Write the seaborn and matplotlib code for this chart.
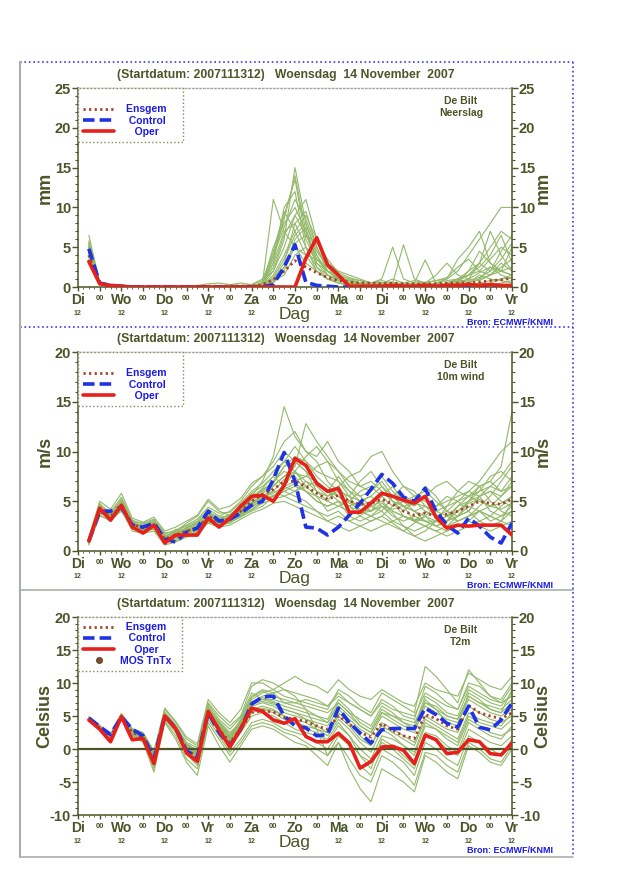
import matplotlib
matplotlib.use("Agg")
import matplotlib.pyplot as plt
import seaborn as sns
import pandas as pd
from matplotlib.lines import Line2D
from matplotlib.ticker import MultipleLocator

# ---------------- data ----------------
hours = [6, 12, 18, 24, 30, 36, 42, 48, 54, 60, 66, 72, 78, 84, 90, 96, 102, 108, 114, 120,
         126, 132, 138, 144, 150, 156, 162, 168, 174, 180, 186, 192, 198, 204, 210, 216, 222, 228, 234, 240]

tick_labels = ['Di', '00', 'Wo', '00', 'Do', '00', 'Vr', '00', 'Za', '00', 'Zo',
               '00', 'Ma', '00', 'Di', '00', 'Wo', '00', 'Do', '00', 'Vr']

title_text = "(Startdatum: 2007111312)   Woensdag  14 November  2007"

# --- precipitation (mm) ---
prec_oper = [3.2, 0.4, 0.2, 0.1, 0, 0, 0, 0,
             0, 0, 0, 0, 0, 0, 0, 0,
             0, 0, 0, 0, 3.6, 6.2, 2.8, 1.5,
             0.1, 0.1, 0.1, 0.1, 0.2, 0.1, 0.1, 0.2,
             0.1, 0.2, 0.2, 0.3, 0.2, 0.3, 0.2, 0.2]
prec_ctrl = [4.8, 0.5, 0.2, 0.1, 0, 0, 0, 0,
             0, 0, 0, 0, 0, 0, 0, 0,
             0, 0.3, 2.5, 5.3, 0.6, 0.2, 0.1, 0,
             0, 0, 0, 0, 0, 0, 0, 0,
             0, 0, 0, 0, 0.1, 0, 0.1, 0.1]
prec_mean = [4.0, 0.5, 0.2, 0.1, 0.05, 0.05, 0.05, 0.05,
             0.05, 0.05, 0.05, 0.1, 0.1, 0.1, 0.1, 0.1,
             0.3, 0.9, 2.0, 3.3, 2.5, 1.8, 1.2, 0.8,
             0.6, 0.5, 0.5, 0.4, 0.5, 0.4, 0.4, 0.4,
             0.4, 0.5, 0.5, 0.5, 0.6, 0.8, 0.9, 1.1]
prec_members = [
    [5.5, 0.5, 0.2, 0, 0, 0, 0, 0, 0, 0, 0, 0, 0, 0, 0, 0,
     0.2, 2.0, 6.0, 15.0, 8.0, 4.0, 1.5, 0.8, 0.5, 0.3, 0.2, 0.2, 0.5, 0.3, 0.2, 0.5,
     0.8, 1.0, 2.0, 4.0, 6.0, 8.0, 10.0, 10.0],
    [4.5, 0.3, 0.1, 0, 0, 0, 0, 0, 0, 0, 0, 0, 0, 0, 0, 0.1,
     0.5, 11.0, 7.0, 5.0, 3.0, 2.0, 1.0, 0.5, 0.3, 0.2, 0.1, 0.1, 0.1, 0.1, 0.2, 0.3,
     0.2, 0.5, 1.0, 0.5, 0.3, 0.5, 1.0, 1.5],
    [6.5, 0.6, 0.2, 0.1, 0, 0, 0, 0, 0, 0, 0, 0, 0, 0, 0, 0.3,
     1.0, 4.0, 9.0, 13.5, 6.0, 3.0, 2.0, 1.0, 0.5, 0.3, 0.5, 1.0, 5.0, 1.0, 0.5, 0.3,
     0.2, 0.3, 0.5, 1.0, 3.0, 7.0, 4.0, 2.0],
    [3.5, 0.4, 0.1, 0, 0, 0, 0, 0, 0, 0, 0, 0, 0.1, 0.3, 0.5, 0.3,
     0.2, 1.0, 3.0, 8.0, 9.5, 5.0, 2.0, 1.0, 0.5, 0.3, 0.5, 0.8, 0.5, 5.3, 1.0, 0.5,
     0.3, 0.2, 0.3, 0.5, 1.5, 1.0, 0.8, 0.5],
    [5.0, 0.5, 0.2, 0, 0, 0, 0, 0, 0, 0, 0, 0, 0, 0, 0, 0,
     0.3, 5.0, 8.0, 10.0, 7.0, 2.5, 1.0, 0.5, 0.2, 0.1, 0.1, 0.2, 0.3, 0.2, 0.5, 3.4,
     0.5, 0.3, 0.2, 0.5, 1.0, 2.5, 1.5, 1.0],
    [4.0, 0.4, 0.1, 0, 0, 0, 0, 0, 0, 0, 0, 0, 0, 0, 0, 0,
     0, 0.5, 2.0, 6.0, 7.5, 3.0, 1.5, 1.0, 0.8, 0.5, 0.3, 0.2, 0.2, 0.2, 0.1, 0.2,
     0.3, 0.5, 0.8, 1.5, 2.5, 4.0, 6.5, 3.0],
    [5.2, 0.6, 0.3, 0.1, 0, 0, 0, 0, 0, 0, 0, 0, 0, 0, 0.1, 0.2,
     0.5, 3.0, 10.0, 12.0, 5.0, 2.0, 1.0, 0.8, 0.5, 0.3, 0.2, 0.1, 0.1, 0.2, 0.3, 0.2,
     0.1, 0.2, 0.5, 0.5, 1.0, 1.5, 2.0, 5.0],
    [4.8, 0.5, 0.2, 0, 0, 0, 0, 0, 0, 0, 0, 0, 0, 0, 0, 0,
     0.2, 1.5, 4.0, 7.0, 9.0, 6.0, 3.0, 1.5, 1.0, 0.8, 0.5, 0.5, 0.3, 0.3, 0.2, 0.2,
     0.3, 0.3, 0.5, 2.0, 4.5, 3.0, 2.0, 1.5],
    [3.8, 0.3, 0.1, 0, 0, 0, 0, 0, 0, 0, 0, 0, 0, 0, 0, 0,
     0.1, 0.8, 1.5, 4.0, 5.0, 3.5, 2.0, 1.0, 0.5, 0.3, 0.2, 0.1, 0.1, 0.1, 0.1, 0.1,
     0.1, 0.2, 0.2, 0.3, 0.5, 0.8, 1.0, 1.2],
    [5.8, 0.5, 0.2, 0, 0, 0, 0, 0, 0, 0, 0, 0, 0, 0, 0, 0.1,
     0.3, 2.5, 6.5, 9.0, 6.5, 4.0, 2.0, 1.5, 1.0, 0.5, 0.3, 0.5, 1.0, 0.5, 0.3, 0.2,
     0.5, 1.0, 3.5, 5.0, 7.0, 3.0, 2.0, 2.5],
    [4.2, 0.4, 0.2, 0, 0, 0, 0, 0, 0, 0, 0, 0, 0, 0, 0, 0,
     0.2, 1.0, 2.5, 5.0, 4.0, 2.0, 1.0, 0.5, 0.3, 0.2, 0.1, 0.1, 0.1, 0.1, 0.1, 0.1,
     0.2, 0.1, 0.2, 0.3, 0.5, 0.3, 0.5, 0.8],
    [5.0, 0.5, 0.2, 0, 0, 0, 0, 0, 0, 0, 0, 0, 0, 0, 0, 0,
     0.3, 4.0, 7.5, 11.0, 8.5, 5.0, 2.5, 1.2, 0.8, 0.5, 0.3, 0.2, 0.2, 0.3, 0.5, 0.3,
     0.3, 0.5, 1.0, 2.0, 3.0, 5.0, 7.0, 6.0],
    [4.4, 0.4, 0.2, 0.1, 0, 0, 0, 0, 0, 0.1, 0.2, 0.4, 0.5, 0.3, 0.2, 0.3,
     0.8, 2.0, 5.0, 9.0, 11.0, 6.0, 3.0, 2.0, 1.5, 1.0, 0.5, 0.3, 0.2, 0.5, 0.8, 0.5,
     0.3, 0.5, 0.8, 1.5, 3.0, 2.0, 4.5, 6.5],
    [5.6, 0.6, 0.2, 0, 0, 0, 0, 0, 0, 0, 0, 0, 0, 0, 0, 0,
     0.5, 3.5, 8.5, 14.0, 7.0, 3.5, 2.0, 1.0, 0.8, 0.5, 0.3, 0.2, 0.3, 0.2, 0.2, 0.3,
     0.5, 0.8, 1.0, 1.5, 2.0, 3.5, 5.0, 4.0],
    [4.6, 0.4, 0.2, 0, 0, 0, 0, 0, 0, 0, 0, 0, 0, 0, 0, 0,
     0.4, 3.0, 7.0, 8.0, 5.0, 2.5, 1.5, 0.8, 0.6, 0.4, 0.3, 0.3, 0.2, 0.3, 0.4, 0.6,
     0.8, 1.2, 2.5, 3.5, 2.0, 1.5, 3.0, 2.0],
    [5.3, 0.5, 0.2, 0, 0, 0, 0, 0, 0, 0, 0, 0, 0, 0, 0, 0,
     0.2, 1.2, 3.5, 6.5, 8.0, 4.5, 2.5, 1.2, 0.8, 0.5, 0.4, 0.3, 0.3, 0.2, 0.2, 0.3,
     0.2, 0.3, 0.6, 1.0, 1.8, 2.5, 2.0, 1.5],
    [4.9, 0.5, 0.2, 0, 0, 0, 0, 0, 0, 0, 0, 0, 0, 0, 0, 0,
     0.6, 4.5, 9.5, 7.0, 4.0, 3.5, 2.5, 1.0, 0.5, 0.3, 0.2, 0.2, 0.1, 0.1, 0.2, 0.2,
     0.3, 0.4, 0.5, 0.8, 1.2, 2.0, 3.5, 5.5],
    [4.3, 0.4, 0.1, 0, 0, 0, 0, 0, 0, 0, 0, 0, 0, 0, 0, 0,
     0.1, 0.6, 2.5, 5.5, 6.5, 5.5, 3.5, 1.8, 1.2, 0.8, 0.5, 0.5, 0.6, 0.4, 0.3, 0.5,
     1.5, 3.0, 1.5, 1.0, 0.8, 1.5, 2.5, 3.5],
]

# --- 10m wind (m/s) ---
wind_oper = [1.0, 4.3, 3.1, 4.6, 2.4, 1.8, 2.6, 0.8,
             1.6, 1.6, 1.6, 3.3, 2.4, 3.3, 4.5, 5.5,
             5.6, 5.0, 6.6, 9.3, 8.6, 6.8, 6.0, 6.3,
             3.9, 3.9, 4.8, 5.8, 5.5, 5.1, 4.8, 5.5,
             3.4, 2.3, 2.6, 2.5, 2.6, 2.6, 2.6, 1.6]
wind_ctrl = [1.0, 4.0, 4.0, 4.4, 2.6, 2.4, 2.8, 1.2,
             0.9, 1.9, 2.3, 4.0, 3.0, 3.2, 3.8, 4.6,
             5.0, 7.2, 9.9, 7.0, 2.4, 2.3, 1.6, 2.4,
             3.6, 4.8, 6.2, 7.7, 6.8, 5.4, 5.0, 6.3,
             4.0, 2.6, 1.8, 3.3, 2.5, 1.4, 0.8, 2.8]
wind_mean = [1.0, 4.0, 3.5, 4.5, 2.7, 2.3, 2.6, 1.2,
             1.6, 2.0, 2.3, 3.5, 3.0, 3.2, 4.0, 5.0,
             5.7, 6.2, 7.0, 7.0, 6.5, 5.8, 5.2, 5.6,
             5.0, 4.7, 4.8, 5.2, 4.7, 4.0, 3.6, 3.8,
             3.5, 3.7, 4.0, 4.5, 5.0, 4.8, 4.7, 5.2]
wind_members = [
    [1.2, 4.5, 4.0, 5.0, 3.0, 2.5, 3.0, 1.5, 2.0, 2.5, 3.0, 4.2, 3.5, 4.0, 5.0, 6.5,
     7.5, 8.5, 10.0, 9.0, 8.0, 7.0, 6.0, 7.5, 6.0, 5.5, 6.0, 7.0, 5.5, 4.5, 3.0, 3.5,
     2.5, 3.0, 3.5, 4.0, 5.5, 6.0, 5.5, 7.0],
    [0.8, 3.5, 3.2, 4.0, 2.2, 2.0, 2.2, 0.8, 1.2, 1.5, 2.0, 3.0, 2.6, 2.8, 3.5, 4.0,
     4.5, 5.5, 6.0, 5.5, 5.0, 4.0, 3.5, 4.0, 3.0, 3.5, 4.5, 5.0, 4.0, 3.5, 3.0, 2.5,
     2.0, 2.5, 3.0, 3.5, 4.0, 3.5, 3.0, 4.0],
    [1.0, 4.8, 3.6, 5.2, 3.0, 2.8, 3.2, 1.8, 2.0, 2.8, 3.5, 5.0, 4.0, 3.6, 4.5, 5.5,
     7.0, 9.5, 14.5, 11.5, 10.0, 9.0, 7.0, 6.0, 5.5, 7.0, 8.0, 6.5, 5.0, 4.0, 5.0, 6.5,
     5.5, 4.0, 3.0, 3.5, 4.5, 5.5, 7.0, 8.5],
    [1.1, 4.0, 3.0, 4.2, 2.4, 2.1, 2.4, 1.0, 1.4, 1.8, 2.5, 3.2, 2.8, 3.0, 3.8, 4.8,
     5.5, 5.0, 6.5, 8.0, 9.5, 10.5, 9.0, 7.0, 5.5, 4.0, 3.5, 4.5, 3.8, 2.5, 1.5, 2.0,
     3.0, 4.5, 6.0, 7.0, 6.5, 5.0, 4.0, 3.5],
    [0.9, 4.2, 3.8, 4.6, 2.8, 2.4, 2.7, 1.3, 1.8, 2.2, 2.0, 3.6, 3.2, 3.4, 4.2, 5.5,
     6.0, 7.0, 8.0, 7.5, 6.0, 5.0, 4.5, 5.0, 4.5, 4.0, 3.5, 3.0, 2.5, 2.0, 2.8, 3.5,
     4.5, 5.5, 5.0, 4.0, 3.0, 2.5, 3.0, 5.0],
    [1.3, 4.4, 3.4, 4.8, 2.5, 2.2, 2.8, 1.6, 1.5, 2.4, 2.8, 4.0, 3.0, 3.4, 4.0, 4.5,
     5.0, 6.5, 7.5, 8.5, 12.8, 11.0, 9.5, 8.0, 7.0, 6.5, 7.0, 6.0, 5.0, 4.5, 4.0, 3.5,
     3.0, 2.5, 3.5, 5.0, 6.0, 7.5, 8.0, 7.0],
    [0.7, 3.8, 3.6, 4.4, 2.6, 2.6, 2.5, 1.1, 1.7, 2.1, 2.6, 3.4, 3.3, 3.6, 4.6, 5.8,
     6.5, 7.5, 6.5, 6.0, 7.0, 6.5, 5.5, 6.5, 5.0, 4.5, 5.0, 6.0, 5.0, 3.5, 3.0, 4.0,
     3.5, 3.0, 4.0, 5.0, 6.5, 7.0, 6.0, 6.5],
    [1.0, 4.1, 3.3, 4.3, 2.9, 2.3, 2.5, 1.2, 1.3, 1.7, 2.2, 3.3, 2.9, 3.1, 3.6, 4.2,
     5.0, 5.5, 6.2, 6.8, 6.0, 5.5, 5.0, 4.5, 4.0, 3.8, 4.0, 4.5, 4.2, 4.5, 4.8, 4.5,
     4.0, 3.5, 3.0, 3.5, 4.0, 4.5, 4.8, 5.5],
    [1.2, 4.3, 3.7, 4.9, 2.7, 2.5, 2.9, 1.4, 1.9, 2.3, 2.7, 3.9, 3.4, 3.5, 4.3, 5.2,
     6.2, 6.8, 8.5, 9.0, 8.0, 6.0, 5.0, 6.5, 7.5, 8.0, 9.5, 10.0, 8.0, 6.5, 5.5, 5.0,
     4.5, 5.0, 5.5, 6.0, 7.0, 8.5, 10.0, 11.0],
    [0.8, 3.9, 3.1, 4.1, 2.3, 2.0, 2.3, 0.9, 1.0, 1.6, 1.9, 2.9, 2.7, 2.9, 3.4, 4.1,
     4.8, 5.2, 5.5, 5.0, 4.5, 4.0, 3.0, 2.5, 2.0, 2.5, 3.0, 3.5, 2.8, 2.0, 1.5, 1.0,
     1.5, 2.0, 2.5, 3.0, 2.5, 2.0, 2.5, 3.0],
    [1.1, 4.6, 3.9, 5.4, 3.1, 2.7, 3.1, 1.7, 2.1, 2.6, 3.2, 4.4, 3.8, 3.9, 4.8, 6.0,
     6.8, 8.0, 9.0, 10.5, 9.0, 7.5, 6.5, 5.5, 4.5, 5.0, 5.5, 4.5, 3.5, 3.0, 3.5, 3.0,
     2.5, 3.0, 4.5, 5.5, 6.0, 6.5, 7.5, 9.0],
    [1.0, 4.0, 3.5, 4.5, 2.6, 2.2, 2.6, 1.1, 1.6, 2.0, 2.4, 3.6, 3.1, 3.3, 3.9, 4.9,
     5.6, 6.0, 7.2, 7.8, 7.5, 8.5, 9.0, 8.0, 6.5, 5.5, 4.5, 4.0, 3.0, 2.5, 2.0, 2.5,
     3.0, 3.5, 4.0, 4.8, 5.2, 4.5, 4.2, 4.8],
    [0.6, 3.6, 3.0, 4.2, 2.0, 1.8, 2.0, 0.6, 0.9, 1.4, 1.8, 2.8, 2.4, 2.6, 3.2, 3.8,
     4.2, 4.8, 5.0, 4.5, 4.0, 3.5, 3.0, 3.5, 3.0, 2.5, 2.0, 2.5, 3.0, 3.5, 3.0, 2.5,
     2.0, 1.5, 2.0, 2.5, 3.0, 3.5, 3.0, 2.5],
    [1.4, 5.0, 4.2, 5.8, 3.3, 2.9, 3.4, 2.0, 2.4, 3.0, 3.6, 5.2, 4.2, 4.5, 5.3, 6.8,
     7.5, 9.0, 11.0, 12.0, 10.0, 9.5, 11.0, 9.0, 8.0, 6.5, 6.0, 7.5, 6.0, 5.0, 4.5, 5.5,
     6.5, 7.0, 6.0, 5.5, 6.5, 7.0, 8.5, 14.0],
    [0.9, 4.3, 3.3, 4.7, 2.5, 2.6, 2.9, 1.5, 1.5, 2.3, 2.9, 3.8, 3.2, 3.7, 4.4, 5.6,
     6.0, 7.0, 8.5, 9.5, 9.0, 8.0, 7.5, 7.0, 6.0, 5.0, 4.0, 5.5, 6.5, 5.0, 4.0, 3.0,
     2.5, 2.0, 2.5, 3.0, 4.0, 3.5, 4.5, 5.5],
    [1.2, 3.7, 3.8, 4.4, 2.9, 2.0, 2.2, 1.0, 2.2, 1.8, 2.1, 3.1, 2.9, 3.0, 3.7, 4.6,
     5.3, 6.0, 5.5, 6.0, 6.5, 7.0, 6.0, 5.0, 3.5, 3.0, 3.5, 4.0, 5.5, 6.5, 6.0, 4.5,
     3.5, 4.0, 5.0, 6.0, 5.5, 4.0, 3.5, 4.0],
    [1.0, 4.1, 3.6, 4.6, 2.6, 2.4, 2.7, 1.2, 1.7, 2.0, 2.4, 3.5, 3.0, 3.4, 4.1, 5.1,
     5.8, 6.6, 7.5, 8.0, 7.0, 6.0, 5.5, 6.0, 5.5, 5.0, 5.5, 6.5, 5.5, 4.5, 4.0, 4.5,
     4.0, 4.5, 5.0, 5.5, 5.0, 4.5, 5.5, 6.5],
    [0.9, 3.9, 3.4, 4.4, 2.5, 2.2, 2.5, 1.1, 1.5, 1.9, 2.2, 3.4, 2.9, 3.2, 3.9, 4.7,
     5.4, 5.8, 6.5, 7.0, 7.5, 7.0, 6.0, 5.5, 4.8, 4.2, 4.0, 4.8, 4.0, 3.5, 3.2, 3.0,
     3.0, 3.5, 4.5, 5.0, 5.5, 6.0, 5.0, 4.5],
    [1.1, 4.2, 3.7, 4.7, 2.8, 2.4, 2.6, 1.3, 1.8, 2.2, 2.5, 3.7, 3.2, 3.3, 4.0, 5.3,
     6.3, 7.5, 9.0, 8.0, 6.5, 5.5, 4.0, 4.5, 5.0, 6.0, 6.5, 5.5, 4.5, 5.0, 5.5, 6.0,
     5.0, 4.0, 3.5, 4.0, 5.5, 6.5, 6.0, 7.5],
    [1.0, 3.8, 3.3, 4.3, 2.4, 2.1, 2.4, 1.0, 1.4, 1.8, 2.1, 3.2, 2.8, 3.0, 3.6, 4.4,
     5.2, 5.6, 6.0, 6.5, 6.0, 5.0, 4.5, 5.0, 4.5, 3.5, 3.0, 3.5, 4.5, 5.5, 5.0, 4.0,
     3.5, 3.0, 3.5, 4.5, 4.0, 3.0, 3.5, 4.5],
]

# --- T2m (Celsius) ---
temp_oper = [4.4, 3.0, 1.1, 4.9, 1.4, 1.6, -2.2, 5.0,
             3.1, -0.6, -1.9, 5.7, 2.9, 0.3, 3.1, 6.2,
             5.7, 4.4, 3.9, 4.6, 1.9, 1.1, 1.1, 2.4,
             0.9, -2.9, -1.9, 0.3, 0.4, -0.2, -2.2, 2.1,
             1.4, -0.7, -0.5, 1.4, 1.1, -0.7, -0.9, 0.9]
temp_ctrl = [4.7, 3.4, 2.2, 4.9, 3.0, 2.0, -1.5, 5.0,
             3.2, -0.3, -1.2, 5.5, 2.5, 0.5, 3.0, 6.8,
             7.9, 8.0, 5.0, 3.5, 3.2, 2.0, 2.2, 6.2,
             4.0, 2.4, 0.9, 2.9, 3.1, 3.1, 3.1, 6.2,
             5.2, 3.9, 3.3, 6.5, 3.3, 2.9, 4.4, 7.0]
temp_mean = [4.5, 3.2, 1.8, 4.9, 2.5, 1.8, -1.8, 5.0,
             3.0, 0.0, -1.3, 5.5, 3.0, 1.0, 3.0, 5.5,
             5.8, 5.6, 4.8, 4.5, 4.2, 3.5, 3.0, 5.0,
             3.8, 2.5, 1.8, 3.9, 2.8, 2.0, 1.6, 5.2,
             4.6, 3.5, 3.0, 6.6, 5.5, 5.0, 4.6, 5.5]
temp_members = [
    [4.8, 3.5, 2.0, 5.3, 2.8, 2.2, -1.0, 5.5, 3.5, 0.5, -0.5, 6.5, 4.0, 2.0, 4.5, 8.0,
     9.0, 8.5, 7.0, 6.5, 6.0, 5.0, 4.5, 7.5, 6.0, 4.0, 3.0, 6.0, 5.0, 4.0, 3.5, 8.0,
     7.0, 5.5, 5.0, 9.0, 8.0, 7.0, 6.5, 8.5],
    [4.2, 3.0, 1.5, 4.6, 2.2, 1.4, -2.5, 4.5, 2.5, -0.8, -2.5, 4.5, 2.0, -0.5, 1.5, 4.0,
     4.5, 4.0, 3.0, 2.5, 2.0, 1.0, 0.0, 2.5, 1.0, -1.0, -2.0, 1.0, 0.0, -1.5, -3.0, 2.0,
     1.5, 0.0, -1.0, 3.0, 2.0, 1.0, 0.5, 2.0],
    [4.6, 3.4, 2.2, 5.0, 3.0, 2.4, -0.5, 6.0, 4.0, 1.5, 0.5, 7.0, 5.0, 3.5, 5.0, 9.5,
     10.5, 10.0, 9.0, 8.5, 8.0, 7.5, 6.5, 8.5, 7.0, 6.0, 5.0, 7.5, 6.5, 5.0, 4.5, 9.5,
     8.5, 7.0, 6.0, 10.0, 9.5, 8.0, 7.5, 10.0],
    [4.4, 3.0, 1.2, 4.8, 2.0, 1.0, -3.5, 4.0, 1.5, -2.0, -4.0, 3.5, 0.5, -2.0, 0.5, 3.0,
     3.5, 3.0, 2.0, 1.0, 0.5, -1.0, -2.5, 1.0, -1.5, -4.0, -5.0, -1.0, -2.0, -3.5, -5.5, -0.5,
     -1.0, -2.5, -3.5, 1.0, 0.0, -1.5, -2.0, 0.5],
    [4.5, 3.2, 1.8, 5.0, 2.6, 1.8, -1.5, 5.2, 3.2, 0.3, -1.0, 5.8, 3.5, 1.5, 3.5, 6.5,
     7.0, 6.5, 5.5, 5.0, 4.5, 4.0, 3.5, 6.0, 4.5, 3.0, 2.0, 5.0, 4.0, 3.0, 2.5, 6.5,
     5.5, 4.5, 4.0, 7.5, 6.5, 5.5, 5.0, 6.0],
    [4.7, 3.3, 1.9, 5.1, 2.7, 2.0, -1.2, 5.4, 3.3, 0.8, -0.2, 6.2, 4.2, 2.5, 4.0, 7.5,
     8.5, 9.0, 10.0, 11.0, 10.0, 9.5, 8.5, 10.5, 9.0, 8.0, 7.5, 9.0, 8.0, 7.0, 6.5, 10.0,
     9.0, 8.5, 8.0, 11.5, 10.5, 9.5, 9.0, 11.0],
    [4.3, 3.1, 1.6, 4.7, 2.4, 1.5, -2.0, 4.8, 2.8, -0.3, -1.8, 5.0, 2.5, 0.0, 2.5, 5.0,
     5.5, 5.0, 4.0, 3.0, 2.5, 2.0, 1.5, 4.0, 2.0, -1.0, -3.0, 1.5, 0.5, -1.0, -2.5, 2.5,
     2.0, 0.5, -0.5, 4.0, 3.0, 2.0, 1.5, 3.5],
    [4.6, 3.4, 2.1, 5.2, 2.9, 2.3, -0.8, 5.6, 3.6, 1.0, 0.2, 6.8, 4.5, 3.0, 4.8, 8.5,
     7.5, 7.0, 6.0, 5.5, 5.0, 4.5, 4.0, 6.5, 5.0, 3.5, 2.5, 5.5, 5.0, 4.5, 4.0, 7.0,
     6.5, 5.0, 4.5, 8.0, 7.0, 6.5, 6.0, 7.5],
    [4.4, 3.1, 1.7, 4.9, 2.5, 1.7, -1.6, 5.0, 3.0, -0.2, -1.2, 5.4, 3.2, 1.2, 3.2, 6.0,
     6.5, 6.0, 5.0, 4.5, 4.0, 3.0, 2.5, 5.5, 4.0, 2.0, 0.5, 4.0, 3.0, 2.0, 1.0, 5.0,
     4.0, 3.0, 2.5, 6.5, 5.5, 4.5, 4.0, 5.0],
    [4.5, 3.3, 1.9, 5.0, 2.8, 2.1, -1.1, 5.3, 3.4, 0.6, -0.8, 6.0, 3.8, 1.8, 4.2, 7.0,
     7.5, 7.5, 7.0, 7.0, 6.5, 6.0, 5.5, 7.0, 5.5, 4.5, 3.5, 6.5, 5.5, 4.0, 3.0, 7.5,
     6.0, 4.0, 3.5, 8.5, 7.5, 6.0, 5.5, 9.0],
    [4.3, 2.9, 1.4, 4.5, 2.1, 1.2, -3.0, 4.2, 2.0, -1.5, -3.0, 4.0, 1.5, -1.0, 1.0, 3.5,
     4.0, 3.5, 2.5, 2.0, 1.0, 0.0, -1.0, 2.0, 0.5, -2.5, -4.0, 0.0, -1.0, -2.0, -4.0, 1.0,
     0.0, -1.5, -2.5, 2.0, 1.0, 0.0, -1.0, 1.5],
    [4.9, 3.6, 2.3, 5.4, 3.1, 2.5, -0.3, 6.2, 4.2, 1.8, 0.8, 7.5, 5.5, 4.0, 6.0, 10.0,
     10.0, 9.0, 8.0, 7.5, 7.0, 6.5, 6.0, 9.0, 8.0, 6.5, 5.5, 8.5, 7.5, 6.5, 5.5, 12.5,
     11.0, 9.0, 7.0, 12.0, 10.0, 8.0, 7.0, 8.0],
    [4.4, 3.2, 1.7, 4.8, 2.6, 1.9, -1.7, 5.1, 3.1, 0.1, -1.5, 5.2, 3.0, 0.8, 2.8, 5.5,
     6.0, 5.5, 4.5, 4.0, 3.5, 3.0, 2.0, 4.5, 3.0, 1.0, -0.5, 3.0, 2.0, 0.5, -1.0, 3.5,
     3.0, 2.0, 1.0, 5.0, 4.0, 3.5, 3.0, 4.5],
    [4.6, 3.3, 2.0, 5.1, 2.7, 2.1, -1.3, 5.3, 3.2, 0.4, -0.6, 5.9, 3.6, 1.6, 3.8, 7.0,
     8.0, 8.5, 9.0, 8.0, 6.0, 3.0, -1.0, 1.0, -3.0, -6.0, -8.0, -3.0, -4.0, -5.0, -6.5, -1.0,
     -2.0, -3.5, -4.5, 0.5, -0.5, -2.0, -2.5, 0.0],
    [4.5, 3.3, 1.9, 5.0, 2.7, 1.9, -1.4, 5.2, 3.3, 0.4, -0.9, 5.9, 3.7, 1.7, 3.9, 7.2,
     7.8, 7.2, 6.5, 6.0, 5.5, 5.0, 4.0, 7.0, 5.5, 3.5, 2.5, 5.5, 4.5, 3.5, 3.0, 7.0,
     6.0, 5.0, 4.5, 8.0, 7.0, 6.0, 5.5, 7.0],
    [4.5, 3.2, 1.8, 4.9, 2.6, 1.8, -1.6, 5.1, 3.1, 0.2, -1.1, 5.6, 3.4, 1.4, 3.6, 6.8,
     7.2, 6.8, 6.0, 5.5, 4.5, 3.5, 2.5, 5.0, 3.5, 1.5, 0.5, 3.5, 2.5, 1.5, 0.5, 4.5,
     3.5, 2.5, 1.5, 5.5, 4.5, 4.0, 3.5, 5.5],
    [4.6, 3.4, 2.0, 5.1, 2.8, 2.1, -1.0, 5.4, 3.4, 0.7, -0.4, 6.3, 4.1, 2.2, 4.3, 7.8,
     8.8, 8.0, 7.5, 7.0, 7.5, 7.0, 6.5, 8.0, 7.0, 6.0, 5.0, 7.0, 6.0, 5.5, 5.0, 8.5,
     7.5, 6.5, 6.0, 9.5, 8.5, 7.5, 7.0, 9.5],
    [4.4, 3.1, 1.6, 4.8, 2.4, 1.6, -1.9, 4.9, 2.9, -0.1, -1.6, 5.3, 3.1, 1.0, 3.0, 5.8,
     6.2, 5.8, 5.0, 4.0, 3.0, 2.5, 1.0, 3.5, 2.0, 0.0, -1.5, 2.0, 1.5, 0.5, -0.5, 4.0,
     3.0, 1.5, 0.5, 4.5, 3.5, 2.5, 2.0, 3.0],
]

# ---------------- style ----------------
OLIVE = '#4b5528'
GREEN = '#93b96a'
RED = '#e8201c'
BLUE = '#1f32e6'
BROWN = '#a8402c'
TXTBLUE = '#1a1ae6'
FRAMEBLUE = '#3a3af0'
FRAMEGRAY = '#a8b0a8'

sns.set_theme(style='white')
plt.rcParams['font.family'] = ['Liberation Sans', 'DejaVu Sans']
plt.rcParams['font.weight'] = 'bold'
plt.rcParams['axes.unicode_minus'] = False

W, H = 640, 880
fig = plt.figure(figsize=(W / 100, H / 100), dpi=100)


def fx(px):
    return px / W


def fy(py):
    return 1 - py / H


# frame lines around the three panels
for y0, col, ls in [(62, FRAMEBLUE, ':'), (327, FRAMEBLUE, ':'), (590, FRAMEGRAY, '-'), (857, FRAMEGRAY, '-')]:
    fig.add_artist(Line2D([fx(20), fx(573)], [fy(y0), fy(y0)], transform=fig.transFigure,
                          color=col, lw=1.2, ls=ls))
fig.add_artist(Line2D([fx(20), fx(20)], [fy(62), fy(857)], transform=fig.transFigure,
                      color=FRAMEGRAY, lw=1.5))
fig.add_artist(Line2D([fx(573), fx(573)], [fy(62), fy(857)], transform=fig.transFigure,
                      color=FRAMEBLUE, lw=1.2, ls=':'))

panels = [
    dict(members=prec_members, mean=prec_mean, ctrl=prec_ctrl, oper=prec_oper,
         ylim=(0, 25), ylabel='mm', name='De Bilt\nNeerslag', bottom_px=287, top_px=88, mos=False),
    dict(members=wind_members, mean=wind_mean, ctrl=wind_ctrl, oper=wind_oper,
         ylim=(0, 20), ylabel='m/s', name='De Bilt\n10m wind', bottom_px=551, top_px=352, mos=False),
    dict(members=temp_members, mean=temp_mean, ctrl=temp_ctrl, oper=temp_oper,
         ylim=(-10, 20), ylabel='Celsius', name='De Bilt\nT2m', bottom_px=815, top_px=617, mos=True),
]

AX_L, AX_R = 78, 512
for p in panels:
    for m in p['members']:
        assert len(m) == len(hours), len(m)
    for k in ('mean', 'ctrl', 'oper'):
        assert len(p[k]) == len(hours), (k, len(p[k]))

    hpx = p['bottom_px'] - p['top_px']
    ax = fig.add_axes([fx(AX_L), fy(p['bottom_px']), (AX_R - AX_L) / W, hpx / H])

    rows = []
    for k, m in enumerate(p['members']):
        for h, v in zip(hours, m):
            rows.append((k, h, v))
    df = pd.DataFrame(rows, columns=['member', 'hour', 'value'])
    sns.lineplot(data=df, x='hour', y='value', units='member', estimator=None,
                 color=GREEN, lw=0.8, ax=ax, legend=False, zorder=2)
    if p['mos']:
        ax.axhline(0, color=OLIVE, lw=1.6, zorder=2.5)
    sns.lineplot(x=hours, y=p['mean'], color=BROWN, lw=2.0, linestyle=(0, (0.8, 1.2)), ax=ax, zorder=3)
    sns.lineplot(x=hours, y=p['ctrl'], color=BLUE, lw=2.6, linestyle=(0, (3.2, 1.4)), ax=ax, zorder=4)
    sns.lineplot(x=hours, y=p['oper'], color=RED, lw=2.6, ax=ax, zorder=5)

    ax.set_xlim(0, 240)
    ax.set_ylim(*p['ylim'])
    ax.set_xlabel('')
    ax.set_ylabel('')
    ax.set_facecolor('white')

    ax.set_xticks(list(range(0, 241, 12)))
    ax.set_xticklabels(tick_labels)
    ax.xaxis.set_minor_locator(MultipleLocator(3))
    ax.yaxis.set_major_locator(MultipleLocator(5))
    ax.yaxis.set_minor_locator(MultipleLocator(1))

    ax.tick_params(axis='y', which='both', left=True, right=True, labelleft=True, labelright=True,
                   direction='out', colors=OLIVE, labelsize=10.5, pad=1)
    ax.tick_params(axis='y', which='major', length=4, width=1)
    ax.tick_params(axis='y', which='minor', length=2, width=0.8)
    ax.tick_params(axis='x', which='both', bottom=True, top=False, direction='out', colors=OLIVE,
                   labelsize=10, pad=1)
    ax.tick_params(axis='x', which='major', length=3, width=1)
    ax.tick_params(axis='x', which='minor', length=1.5, width=0.6)
    for lbl in ax.get_xticklabels():
        if lbl.get_text() == '00':
            lbl.set_fontsize(5.5)
            lbl.set_y(-0.012)

    for side in ('left', 'right', 'bottom'):
        ax.spines[side].set_color(OLIVE)
        ax.spines[side].set_linewidth(1.1)
    ax.spines['top'].set_color('#a0a898')
    ax.spines['top'].set_linestyle(':')
    ax.spines['top'].set_linewidth(1.0)

    # "12" labels below each day tick (the one under "Dag" is hidden in the original)
    for h in range(0, 241, 24):
        if h == 120:
            continue
        ax.text(h, -26 / hpx, '12', transform=ax.get_xaxis_transform(), ha='center', va='center',
                fontsize=5, color=OLIVE)

    ax.text(0.5, -32 / hpx, 'Dag', transform=ax.transAxes, ha='center', va='baseline',
            fontsize=12.5, fontweight='normal', color=OLIVE)
    ax.text((510 - AX_L) / (AX_R - AX_L), -35 / hpx, 'Bron: ECMWF/KNMI', transform=ax.transAxes,
            ha='center', va='center', fontsize=6.5, color=TXTBLUE)

    ax.text(-33 / (AX_R - AX_L), 0.5, p['ylabel'], transform=ax.transAxes, rotation=90,
            ha='center', va='center', fontsize=13, color=OLIVE)
    ax.text(1 + 31 / (AX_R - AX_L), 0.5, p['ylabel'], transform=ax.transAxes, rotation=90,
            ha='center', va='center', fontsize=13, color=OLIVE)

    ax.text(0.479, 1 + 13 / hpx, title_text, transform=ax.transAxes, ha='center', va='center',
            fontsize=8.8, color=OLIVE)
    ax.text((461 - AX_L) / (AX_R - AX_L), 1 - 19 / hpx, p['name'], transform=ax.transAxes,
            ha='center', va='center', fontsize=7.5, color=OLIVE, linespacing=1.25)

    # legend
    handles = [Line2D([], [], color=BROWN, lw=2.0, linestyle=(0, (0.8, 1.2))),
               Line2D([], [], color=BLUE, lw=2.6, linestyle=(0, (3.2, 1.4))),
               Line2D([], [], color=RED, lw=2.6)]
    if p['mos']:
        handles.append(Line2D([], [], color='#8b4a2b', marker='o', markersize=4, lw=0,
                              markeredgecolor='#5a4a2a'))
        labels = ['  Ensgem', '   Control', '     Oper', 'MOS TnTx  ']
        htp = 0.5
    else:
        handles = [Line2D([], [], lw=0)] + handles
        labels = [' ', 'Ensgem    ', ' Control', '   Oper']
        htp = 1.1
    leg = ax.legend(handles, labels, loc='upper left', bbox_to_anchor=(0, 1), borderaxespad=0,
                    frameon=True, fancybox=False, borderpad=0.5, labelspacing=0.12,
                    handlelength=3.0, handletextpad=htp, numpoints=1,
                    prop=dict(size=7.5, weight='bold'), labelcolor=TXTBLUE)
    fr = leg.get_frame()
    fr.set_edgecolor('#7d8c5c')
    fr.set_linestyle(':')
    fr.set_linewidth(1.0)
    fr.set_facecolor('white')
    fr.set_alpha(1)
    leg.set_zorder(10)

fig.savefig('out.png', dpi=100)
